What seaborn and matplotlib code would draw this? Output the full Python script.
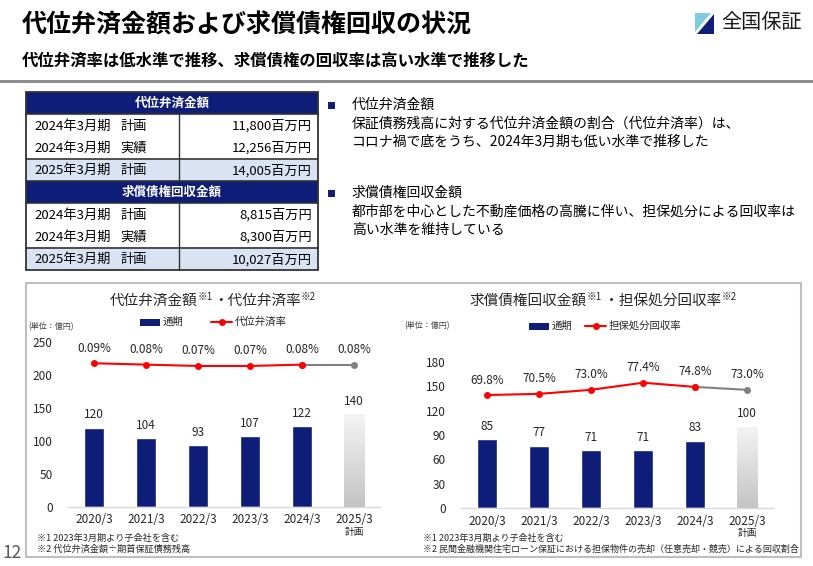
import numpy as np
import pandas as pd
import matplotlib
matplotlib.use('Agg')
import matplotlib.pyplot as plt
import seaborn as sns
from matplotlib.patches import Rectangle, Polygon
from matplotlib.lines import Line2D

# ---------------- data ----------------
periods = ['2020/3', '2021/3', '2022/3', '2023/3', '2024/3', '2025/3']
plan_note = '計画'
is_plan = [False, False, False, False, False, True]

subro_amount = [120, 104, 93, 107, 122, 140]          # 代位弁済金額 (億円)
subro_rate = [0.09, 0.08, 0.07, 0.07, 0.08, 0.08]     # 代位弁済率 (%)
recov_amount = [85, 77, 71, 71, 83, 100]              # 求償債権回収金額 (億円)
recov_rate = [69.8, 70.5, 73.0, 77.4, 74.8, 73.0]     # 担保処分回収率 (%)

left_yticks = [0, 50, 100, 150, 200, 250]
right_yticks = [0, 30, 60, 90, 120, 150, 180]

table1_title = '代位弁済金額'
table1_rows = [('2024年3月期', '計画', '11,800百万円'),
               ('2024年3月期', '実績', '12,256百万円'),
               ('2025年3月期', '計画', '14,005百万円')]
table2_title = '求償債権回収金額'
table2_rows = [('2024年3月期', '計画', '8,815百万円'),
               ('2024年3月期', '実績', '8,300百万円'),
               ('2025年3月期', '計画', '10,027百万円')]

main_title = '代位弁済金額および求償債権回収の状況'
sub_title = '代位弁済率は低水準で推移、求償債権の回収率は高い水準で推移した'
logo_text = '全国保証'
page_no = '12'

bullets = [
    ('代位弁済金額',
     ['保証債務残高に対する代位弁済金額の割合（代位弁済率）は、',
      'コロナ禍で底をうち、2024年3月期も低い水準で推移した']),
    ('求償債権回収金額',
     ['都市部を中心とした不動産価格の高騰に伴い、担保処分による回収率は',
      '高い水準を維持している']),
]

left_title = [('代位弁済金額', 10.5, 0), ('※1', 7, 5), ('・代位弁済率', 10.5, 0), ('※2', 7, 5)]
right_title = [('求償債権回収金額', 10.5, 0), ('※1', 7, 5), (' ・担保処分回収率', 10.5, 0), ('※2', 7, 5)]
bar_legend = '通期'
left_line_legend = '代位弁済率'
right_line_legend = '担保処分回収率'
unit_label = '(単位：億円)'
left_notes = ['※1 2023年3月期より子会社を含む', '※2 代位弁済金額÷期首保証債務残高']
right_notes = ['※1 2023年3月期より子会社を含む',
               '※2 民間金融機関住宅ローン保証における担保物件の売却（任意売却・競売）による回収割合']

# ---------------- style ----------------
sns.set_style('white')
plt.rcParams['font.family'] = ['Noto Sans CJK JP', 'DejaVu Sans']

NAVY = '#0E1E78'
LIGHTBLUE = '#DAE3F3'
RED = '#FF0000'
GREY_LINE = '#808080'
TXT = '#262626'

W, H = 813, 566
fig = plt.figure(figsize=(W / 100, H / 100), dpi=100)
fig.patch.set_facecolor('white')


def fx(x):
    return x / W


def fy(y):
    return 1 - y / H


def ftext(x, y, s, **kw):
    return fig.text(fx(x), fy(y), s, **kw)


def frect(x0, y0, x1, y1, **kw):
    r = Rectangle((fx(x0), fy(y1)), (x1 - x0) / W, (y1 - y0) / H,
                  transform=fig.transFigure, **kw)
    fig.add_artist(r)
    return r


def fline(x0, y0, x1, y1, **kw):
    l = Line2D([fx(x0), fx(x1)], [fy(y0), fy(y1)], transform=fig.transFigure, **kw)
    fig.add_artist(l)
    return l


renderer = fig.canvas.get_renderer()


def rich(xc, ybase, pieces, color=TXT):
    objs = []
    for s, size, dy in pieces:
        t = fig.text(0, 0, s, fontsize=size, ha='left', va='baseline', color=color)
        objs.append((t, dy))
    widths = [t.get_window_extent(renderer).width for t, _ in objs]
    x = xc - sum(widths) / 2
    for (t, dy), w in zip(objs, widths):
        t.set_position((fx(x), fy(ybase - dy)))
        x += w


# ---------------- header ----------------
ftext(22, 25, main_title, fontsize=18, fontweight='bold', va='center', ha='left', color='black')
ftext(22, 61, sub_title, fontsize=11.8, fontweight='bold', va='center', ha='left', color='black')
frect(0, 80.5, W, 83.5, facecolor='#8C8C8C', edgecolor='none')

# logo
fig.add_artist(Polygon([(fx(695), fy(13)), (fx(711), fy(13)), (fx(695), fy(32))],
                       closed=True, transform=fig.transFigure, facecolor='#7FCCE0', edgecolor='none'))
fig.add_artist(Polygon([(fx(713.5), fy(14)), (fx(713.5), fy(34)), (fx(697), fy(34))],
                       closed=True, transform=fig.transFigure, facecolor=NAVY, edgecolor='none'))
ftext(721, 23, logo_text, fontsize=14.5, va='center', ha='left', color='#1a1a1a')

# ---------------- table ----------------
TX0, TX1, TXM = 26, 318, 179


def draw_block(ytop, title, rows):
    hb = ytop + 22
    frect(TX0, ytop, TX1, hb, facecolor=NAVY, edgecolor='none')
    ftext((TX0 + TX1) / 2, (ytop + hb) / 2 + 0.5, title, fontsize=9, fontweight='bold',
          color='white', ha='center', va='center')
    rh = 22.3
    ys = [hb + rh * i for i in range(4)]
    frect(TX0, ys[2], TX1, ys[3], facecolor=LIGHTBLUE, edgecolor='none')
    for i, (yr, kind, val) in enumerate(rows):
        yc = (ys[i] + ys[i + 1]) / 2 + 1
        ftext(34, yc, yr, fontsize=9.5, ha='left', va='center', color='black')
        ftext(120, yc, kind, fontsize=9.5, ha='left', va='center', color='black')
        ftext(312, yc, val, fontsize=9.5, ha='right', va='center', color='black')
    fline(TX0, hb, TX1, hb, color='#333333', lw=1.2)
    fline(TX0, ys[2], TX1, ys[2], color='#333333', lw=1.2)
    fline(TXM, hb, TXM, ys[3], color='#333333', lw=1.0)
    return ys[3]


yend = draw_block(92, table1_title, table1_rows)
fline(TX0, yend, TX1, yend, color='#333333', lw=1.2)
yend2 = draw_block(yend, table2_title, table2_rows)
frect(TX0, 92, TX1, yend2, facecolor='none', edgecolor='#333333', lw=1.3)

# ---------------- bullet text ----------------
bullet_y = [105, 193]
for (head, lines), by in zip(bullets, bullet_y):
    frect(328, by - 3.5, 335, by + 3.5, facecolor=NAVY, edgecolor='none')
    ftext(352, by, head, fontsize=10, ha='left', va='center', color='black')
    for j, ln in enumerate(lines):
        ftext(352, by + 19 + 17.5 * j, ln, fontsize=10, ha='left', va='center', color='black')

# ---------------- chart panel ----------------
frect(26, 283, 801, 557, facecolor='none', edgecolor='#BFBFBF', lw=1.5)
ftext(2, 553, page_no, fontsize=12.5, ha='left', va='center', color='#595959')

x_idx = np.arange(len(periods))


def bar_chart(rect, amounts, rates, yticks, ylim, tw_lim, rate_fmt, plan_off):
    ax = fig.add_axes(rect)
    colors = ['#D0D0D0' if p else NAVY for p in is_plan]
    df = pd.DataFrame({'period': periods, 'amount': amounts})
    sns.barplot(data=df, x='period', y='amount', hue='period', palette=colors,
                dodge=False, width=0.4, legend=False, ax=ax, saturation=1)
    ax.set_xlim(-0.5, len(periods) - 0.5)
    ax.set_ylim(*ylim)
    ax.set_yticks(yticks)
    ax.set_xlabel('')
    ax.set_ylabel('')
    for s in ['top', 'right', 'left']:
        ax.spines[s].set_visible(False)
    ax.spines['bottom'].set_color('#D9D9D9')
    ax.spines['bottom'].set_linewidth(1.0)
    ax.tick_params(axis='y', length=0, pad=11, labelsize=8.5, labelcolor=TXT)
    ax.tick_params(axis='x', length=0, pad=5, labelsize=8.5, labelcolor=TXT)
    ax.patch.set_alpha(0)
    # gradient for plan bar
    grad = np.linspace(0, 1, 100).reshape(-1, 1)
    for patch, p in zip(ax.patches, is_plan):
        if p:
            bx, by = patch.get_x(), patch.get_y()
            bw, bh = patch.get_width(), patch.get_height()
            im = ax.imshow(grad, extent=[bx, bx + bw, by, by + bh], aspect='auto',
                           cmap=matplotlib.colors.LinearSegmentedColormap.from_list(
                               'g', ['#C4C4C4', '#F4F4F4']),
                           origin='lower', zorder=patch.get_zorder() + 0.1)
            im.set_clip_path(patch)
            patch.set_edgecolor('none')
    ax.set_xlim(-0.5, len(periods) - 0.5)
    ax.set_ylim(*ylim)
    for patch, v in zip(ax.patches, amounts):
        ax.annotate(f'{v}', (patch.get_x() + patch.get_width() / 2, patch.get_height()),
                    xytext=(0, 9.4), textcoords='offset points', ha='center', va='center',
                    fontsize=8.5, color=TXT)
    tw = ax.twinx()
    sns.lineplot(x=x_idx[4:], y=rates[4:], ax=tw, color=GREY_LINE, lw=1.5, marker='o',
                 markersize=5, markeredgewidth=0, zorder=2)
    sns.lineplot(x=x_idx[:5], y=rates[:5], ax=tw, color=RED, lw=1.5, marker='o',
                 markersize=5, markeredgewidth=0, zorder=3)
    tw.set_ylim(*tw_lim)
    tw.set_xlim(-0.5, len(periods) - 0.5)
    tw.axis('off')
    for xi, r in zip(x_idx, rates):
        tw.annotate(rate_fmt.format(r), (xi, r), xytext=(0, 10.8), textcoords='offset points',
                    ha='center', va='center', fontsize=8.5, color=TXT)
    ax.annotate(plan_note, (len(periods) - 1, 0), xycoords=('data', 'axes fraction'),
                xytext=(0, plan_off), textcoords='offset points', ha='center', va='center',
                fontsize=7, color=TXT)
    return ax


axL = bar_chart([fx(68), fy(506.5), 312 / W, 164.5 / H], subro_amount, subro_rate,
                left_yticks, (0, 250), (-0.971, 0.2475), '{:.2f}%', -18.5)
axR = bar_chart([fx(461), fy(508), 312 / W, 146 / H], recov_amount, recov_rate,
                right_yticks, (0, 180), (-0.04, 90.2), '{:.1f}%', -18)

# titles
rich(213, 305, left_title)
rich(603, 305, right_title)

# legends
def legend(x_rect, y, line_x, line_label):
    frect(x_rect, y - 3.5, x_rect + 20, y + 3.5, facecolor=NAVY, edgecolor='none')
    ftext(x_rect + 23, y, bar_legend, fontsize=7.5, ha='left', va='center', color=TXT)
    fline(line_x, y, line_x + 21, y, color=RED, lw=1.5)
    fig.add_artist(Line2D([fx(line_x + 10.5)], [fy(y)], transform=fig.transFigure,
                          marker='o', markersize=5, color=RED, markeredgewidth=0))
    ftext(line_x + 24, y, line_label, fontsize=7.5, ha='left', va='center', color=TXT)


legend(140, 322, 211, left_line_legend)
legend(529, 326, 585, right_line_legend)
ftext(28, 327, unit_label, fontsize=5.8, ha='left', va='center', color='#404040')
ftext(404, 326, unit_label, fontsize=5.8, ha='left', va='center', color='#404040')

for j, n in enumerate(left_notes):
    ftext(37, 538 + 11 * j, n, fontsize=6.6, ha='left', va='center', color=TXT)
for j, n in enumerate(right_notes):
    ftext(423, 538 + 11 * j, n, fontsize=6.5, ha='left', va='center', color=TXT)

fig.savefig('out.png', dpi=100, facecolor='white')
